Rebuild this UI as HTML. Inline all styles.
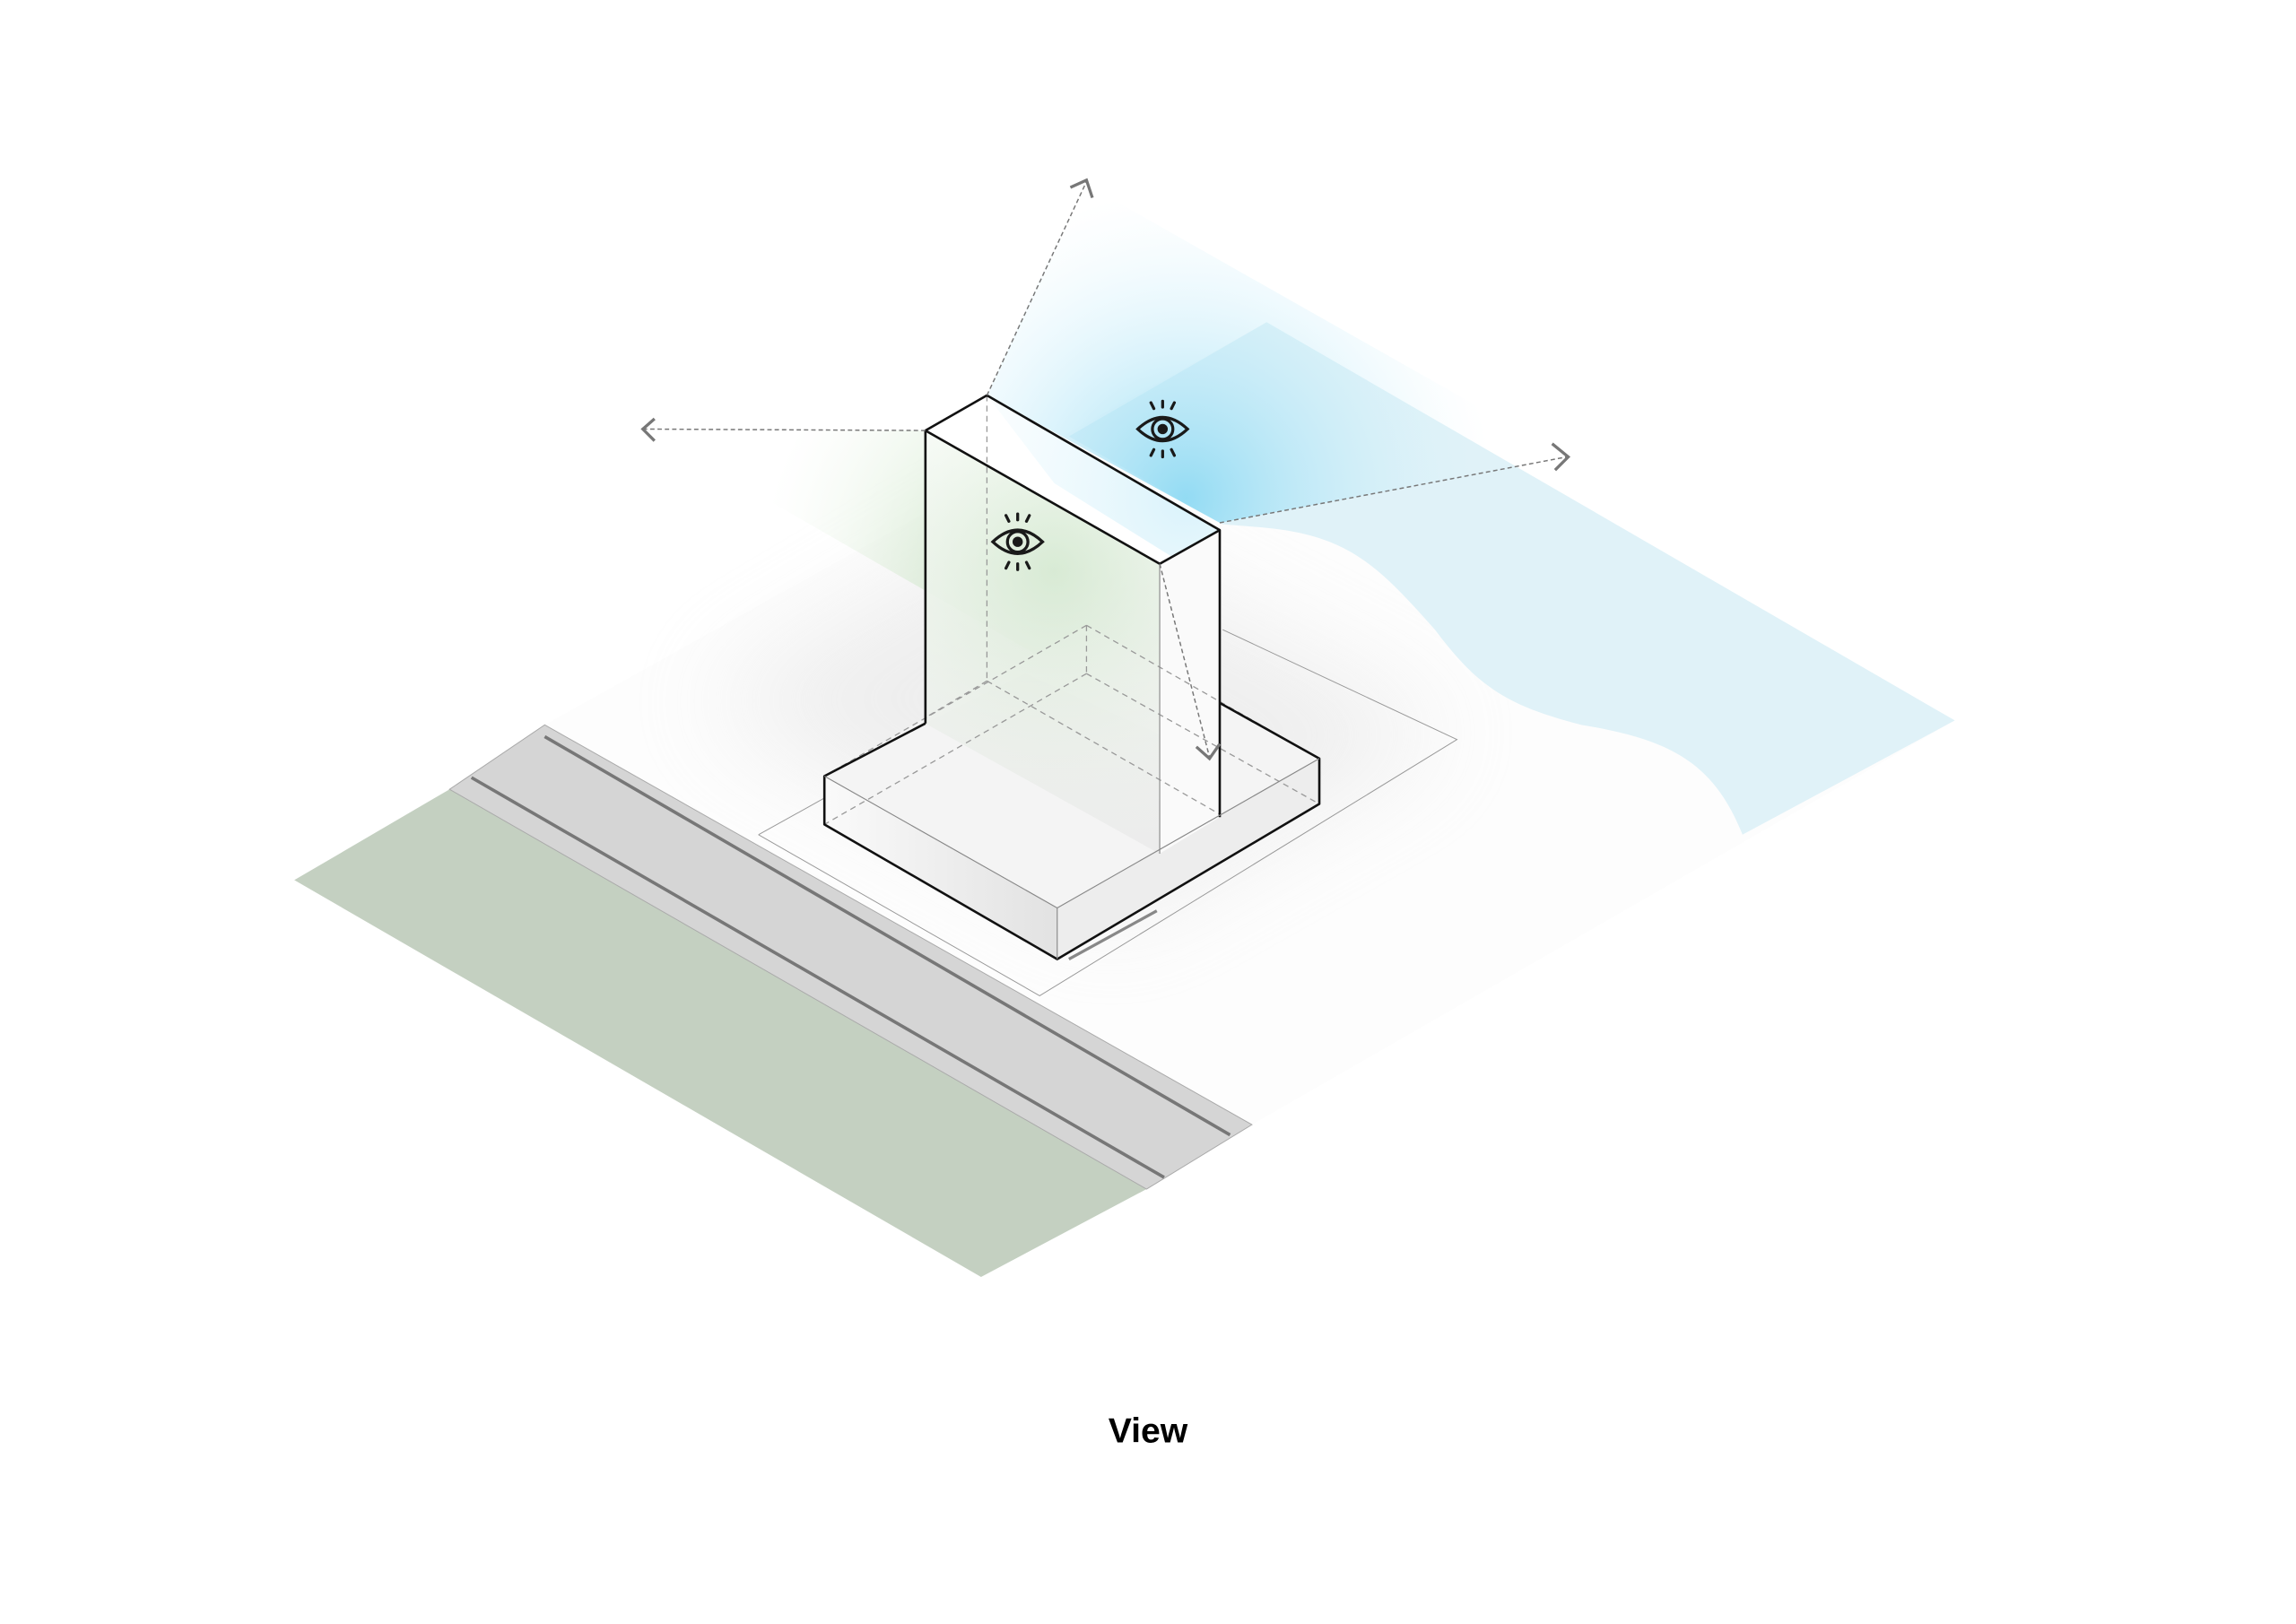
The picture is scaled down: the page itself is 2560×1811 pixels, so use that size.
<!DOCTYPE html>
<html><head><meta charset="utf-8"><style>
html,body{margin:0;padding:0;background:#fff;}
svg{display:block;}
text{font-family:"Liberation Sans",sans-serif;}
</style></head><body>
<svg width="2560" height="1811" viewBox="0 0 1568 1109" preserveAspectRatio="none" xmlns="http://www.w3.org/2000/svg">
<defs>
<radialGradient id="bl" cx="810" cy="340" r="210" gradientUnits="userSpaceOnUse">
<stop offset="0" stop-color="#8fdaf3" stop-opacity="0.95"/><stop offset="1" stop-color="#dff5fd" stop-opacity="0"/></radialGradient>
<radialGradient id="gr" cx="720" cy="390" r="200" gradientUnits="userSpaceOnUse">
<stop offset="0" stop-color="#b7dcb0" stop-opacity="0.9"/><stop offset="1" stop-color="#e6f3e2" stop-opacity="0"/></radialGradient>
<linearGradient id="tw" x1="0" y1="0" x2="0" y2="1"><stop offset="0" stop-color="#fff"/><stop offset="1" stop-color="#ececec"/></linearGradient>
<linearGradient id="pf" x1="0" y1="0" x2="1" y2="0"><stop offset="0" stop-color="#fafafa"/><stop offset="1" stop-color="#e2e2e2"/></linearGradient>
<filter id="blur" x="-50%" y="-50%" width="200%" height="200%"><feGaussianBlur stdDeviation="35"/></filter>
</defs>
<polygon points="372,495 865,220 1335,492 855,768" fill="#fdfdfd"/>
<polygon points="480,480 700,350 990,500 760,630" fill="#dcdcdc" opacity="0.45" filter="url(#blur)"/>
<path d="M865,220 L1335,492 L1190,570 C1170,520 1140,505 1080,495 C1030,482 1010,470 980,430 C940,385 920,365 860,360 L835,358 L730,298 Z" fill="#e0f2f8"/>
<polyline points="518,570 710,680 995,505 835,430" fill="none" stroke="#999" stroke-width="0.6"/>
<line x1="518" y1="570" x2="563" y2="545" stroke="#999" stroke-width="0.6"/>
<polygon points="201,601 307,539 783,812 670,872" fill="#c4d0c1"/>
<polygon points="307,539 372,495 855,768 783,812" fill="#d5d5d5" stroke="#aaa" stroke-width="0.6"/>
<line x1="322" y1="531" x2="795" y2="804" stroke="#777" stroke-width="2.2"/>
<line x1="372" y1="503" x2="840" y2="775" stroke="#777" stroke-width="2.2"/>
<polygon points="674,270 740,125 1070,312 833,357" fill="url(#bl)"/>
<polygon points="632,294 440,293 826,515 792,385" fill="url(#gr)"/>
<polygon points="563,530 742,427 901,518 722,620" fill="#f4f4f4"/>
<polygon points="563,530 722,620 722,655 563,563" fill="url(#pf)"/>
<polygon points="722,620 901,518 901,549 722,655" fill="#ededed"/>
<polygon points="632,494 792,583 833,558 833,520 700,460" fill="#e4e4e4" opacity="0.7"/>
<line x1="730" y1="655" x2="790" y2="622" stroke="#888" stroke-width="2"/>
<polygon points="632,294 792,385 792,583 632,494" fill="url(#tw)" opacity="0.9"/>
<polygon points="632,294 792,385 792,583 632,494" fill="url(#gr)" opacity="0.5"/>
<polygon points="792,385 833,362 833,558 792,583" fill="#fafafa"/>
<polygon points="632,294 674,270 833,362 792,385" fill="#fff"/>
<polygon points="674,270 833,362 800,380 720,330" fill="url(#bl)" opacity="0.35"/>
<g stroke="#999" stroke-width="0.8" stroke-dasharray="4,3" fill="none">
<line x1="674" y1="270" x2="674" y2="465"/>
<line x1="674" y1="465" x2="632" y2="490"/>
<line x1="674" y1="465" x2="833" y2="556"/>
<line x1="742" y1="427" x2="742" y2="460"/>
<line x1="742" y1="427" x2="563" y2="530"/>
<line x1="742" y1="427" x2="901" y2="518"/>
<line x1="742" y1="460" x2="563" y2="563"/>
<line x1="742" y1="460" x2="901" y2="549"/>
</g>
<g stroke="#111" stroke-width="1.6" fill="none" stroke-linejoin="round">
<polyline points="632,494 632,294 674,270 833,362 833,558"/>
<line x1="632" y1="294" x2="792" y2="385"/>
<line x1="792" y1="385" x2="833" y2="362"/>
<polyline points="632,494 563,530 563,563 722,655 901,549 901,518 833,480"/>
</g>
<g stroke="#888" stroke-width="0.7" fill="none">
<line x1="792" y1="385" x2="792" y2="583"/>
<line x1="563" y1="530" x2="722" y2="620"/>
<line x1="722" y1="620" x2="901" y2="518"/>
<line x1="722" y1="620" x2="722" y2="655"/>
</g>
<g stroke="#777" stroke-width="0.9" stroke-dasharray="3,2" fill="none">
<line x1="674" y1="270" x2="742" y2="124"/>
<line x1="632" y1="294" x2="440" y2="293"/>
<line x1="833" y1="357" x2="1070" y2="312"/>
<line x1="792" y1="385" x2="826" y2="517"/>
</g>
<g stroke="#777" stroke-width="2" fill="none">
<polyline points="731,128 742,123 746,135"/>
<polyline points="447,286 439,293 447,301"/>
<polyline points="1060,303 1071,312 1062,321"/>
<polyline points="817,510 826,518 833,508"/>
</g>
<g stroke="#1a1a1a" stroke-width="2" fill="none" stroke-linecap="round">
<g transform="translate(794,293)">
<path d="M-17,0 Q0,-16 17,0 Q0,16 -17,0Z"/><circle r="7"/><circle r="2.5" fill="#1a1a1a"/>
<line x1="-6" y1="-14" x2="-8" y2="-18"/><line x1="0" y1="-15" x2="0" y2="-19"/><line x1="6" y1="-14" x2="8" y2="-18"/>
<line x1="-6" y1="14" x2="-8" y2="18"/><line x1="0" y1="15" x2="0" y2="19"/><line x1="6" y1="14" x2="8" y2="18"/>
</g>
<g transform="translate(695,370)">
<path d="M-17,0 Q0,-16 17,0 Q0,16 -17,0Z"/><circle r="7"/><circle r="2.5" fill="#1a1a1a"/>
<line x1="-6" y1="-14" x2="-8" y2="-18"/><line x1="0" y1="-15" x2="0" y2="-19"/><line x1="6" y1="-14" x2="8" y2="-18"/>
<line x1="-6" y1="14" x2="-8" y2="18"/><line x1="0" y1="15" x2="0" y2="19"/><line x1="6" y1="14" x2="8" y2="18"/>
</g>
</g>
<text x="784" y="985" text-anchor="middle" font-size="24" font-weight="bold" fill="#000">View</text>
</svg>
</body></html>
